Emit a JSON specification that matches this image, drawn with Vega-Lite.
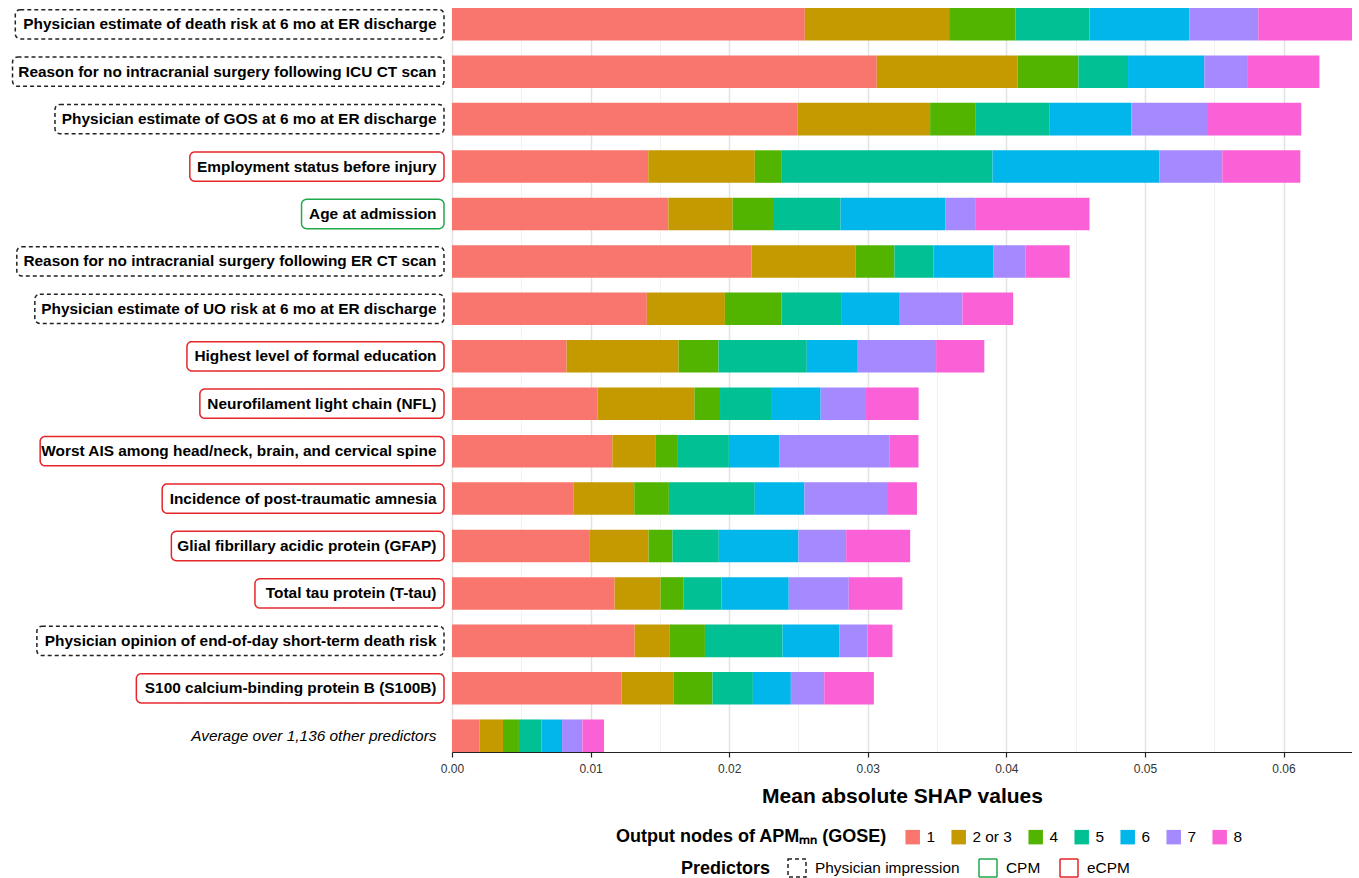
{
  "$schema": "https://vega.github.io/schema/vega-lite/v6.json",
  "background": "white",
  "padding": {"left": 0, "top": 8, "right": 0, "bottom": 0},
  "spacing": 0,
  "bounds": "flush",
  "config": {"view": {"stroke": null}, "font": "Liberation Sans"},
  "datasets": {
    "shap": [
      {"predictor": "Physician estimate of death risk at 6 mo at ER discharge", "type": "Physician impression", "1": 0.02546, "2 or 3": 0.01041, "4": 0.00478, "5": 0.00534, "6": 0.00721, "7": 0.00498, "8": 0.00676},
      {"predictor": "Reason for no intracranial surgery following ICU CT scan", "type": "Physician impression", "1": 0.03065, "2 or 3": 0.01015, "4": 0.00440, "5": 0.00358, "6": 0.00550, "7": 0.00315, "8": 0.00516},
      {"predictor": "Physician estimate of GOS at 6 mo at ER discharge", "type": "Physician impression", "1": 0.02495, "2 or 3": 0.00955, "4": 0.00325, "5": 0.00538, "6": 0.00589, "7": 0.00553, "8": 0.00673},
      {"predictor": "Employment status before injury", "type": "eCPM", "1": 0.01416, "2 or 3": 0.00769, "4": 0.00195, "5": 0.01520, "6": 0.01204, "7": 0.00454, "8": 0.00563},
      {"predictor": "Age at admission", "type": "CPM", "1": 0.01561, "2 or 3": 0.00464, "4": 0.00291, "5": 0.00488, "6": 0.00755, "7": 0.00221, "8": 0.00820},
      {"predictor": "Reason for no intracranial surgery following ER CT scan", "type": "Physician impression", "1": 0.02161, "2 or 3": 0.00750, "4": 0.00281, "5": 0.00281, "6": 0.00435, "7": 0.00229, "8": 0.00320},
      {"predictor": "Physician estimate of UO risk at 6 mo at ER discharge", "type": "Physician impression", "1": 0.01406, "2 or 3": 0.00563, "4": 0.00409, "5": 0.00435, "6": 0.00418, "7": 0.00452, "8": 0.00366},
      {"predictor": "Highest level of formal education", "type": "eCPM", "1": 0.00827, "2 or 3": 0.00808, "4": 0.00288, "5": 0.00637, "6": 0.00368, "7": 0.00565, "8": 0.00348},
      {"predictor": "Neurofilament light chain (NFL)", "type": "eCPM", "1": 0.01049, "2 or 3": 0.00700, "4": 0.00185, "5": 0.00368, "6": 0.00358, "7": 0.00327, "8": 0.00380},
      {"predictor": "Worst AIS among head/neck, brain, and cervical spine", "type": "eCPM", "1": 0.01157, "2 or 3": 0.00310, "4": 0.00163, "5": 0.00368, "6": 0.00366, "7": 0.00791, "8": 0.00211},
      {"predictor": "Incidence of post-traumatic amnesia", "type": "eCPM", "1": 0.00875, "2 or 3": 0.00440, "4": 0.00250, "5": 0.00620, "6": 0.00358, "7": 0.00596, "8": 0.00216},
      {"predictor": "Glial fibrillary acidic protein (GFAP)", "type": "eCPM", "1": 0.00995, "2 or 3": 0.00423, "4": 0.00173, "5": 0.00334, "6": 0.00575, "7": 0.00344, "8": 0.00462},
      {"predictor": "Total tau protein (T-tau)", "type": "eCPM", "1": 0.01173, "2 or 3": 0.00332, "4": 0.00164, "5": 0.00276, "6": 0.00485, "7": 0.00433, "8": 0.00387},
      {"predictor": "Physician opinion of end-of-day short-term death risk", "type": "Physician impression", "1": 0.01318, "2 or 3": 0.00250, "4": 0.00257, "5": 0.00560, "6": 0.00409, "7": 0.00204, "8": 0.00180},
      {"predictor": "S100 calcium-binding protein B (S100B)", "type": "eCPM", "1": 0.01222, "2 or 3": 0.00379, "4": 0.00279, "5": 0.00291, "6": 0.00274, "7": 0.00241, "8": 0.00358},
      {"predictor": "Average over 1,136 other predictors", "type": "other", "1": 0.00200, "2 or 3": 0.00168, "4": 0.00115, "5": 0.00162, "6": 0.00149, "7": 0.00147, "8": 0.00156}
    ]
  },
  "hconcat": [
    {
      "width": 452,
      "height": 744,
      "data": {"name": "shap"},
      "encoding": {
        "y": {"field": "predictor", "type": "nominal", "sort": null, "axis": null, "scale": {"paddingInner": 0.314, "paddingOuter": 0}}
      },
      "layer": [
        {
          "transform": [
            {"filter": "datum.type != 'other'"},
            {"calculate": "length(datum.predictor)*0.556 - 0.278*length(replace(datum.predictor, regexp('[^ ijlI.,/]','g'), '')) - 0.21*length(replace(datum.predictor, regexp('[^ftr()-]','g'), '')) + 0.055*length(replace(datum.predictor, regexp('[^bdghnopquFLT]','g'), '')) + 0.15*length(replace(datum.predictor, regexp('[^ABCDEGHKNOPQRSUVXYZ]','g'), '')) + 0.3*length(replace(datum.predictor, regexp('[^mwM]','g'), ''))", "as": "em"},
            {"calculate": "436.5 - 15.4*datum.em - 8", "as": "bx"}
          ],
          "mark": {"type": "bar", "fill": "white", "strokeWidth": 1.5, "cornerRadius": 5, "height": {"band": 0.9}},
          "encoding": {
            "x": {"field": "bx", "type": "quantitative", "scale": {"domain": [0, 452], "nice": false, "zero": false}, "axis": null},
            "x2": {"datum": 444},
            "stroke": {
              "field": "type", "type": "nominal",
              "scale": {"domain": ["Physician impression", "CPM", "eCPM"], "range": ["#222222", "#22A94A", "#E5262A"]},
              "legend": {"orient": "none", "legendX": 681, "legendY": 850, "direction": "horizontal", "title": "Predictors", "titleOrient": "left", "titleFontSize": 18, "titleFontWeight": "bold", "titleColor": "black", "labelFontSize": 15.4, "labelColor": "black", "symbolType": "square", "symbolSize": 324, "symbolStrokeWidth": 1.5, "symbolFillColor": "white", "columnPadding": 16, "labelOffset": 8, "titlePadding": 16}
            },
            "strokeDash": {
              "field": "type", "type": "nominal",
              "scale": {"domain": ["Physician impression", "CPM", "eCPM"], "range": [[4, 3], [1, 0], [1, 0]]},
              "legend": {"orient": "none", "legendX": 681, "legendY": 850, "direction": "horizontal", "title": "Predictors", "titleOrient": "left", "titleFontSize": 18, "titleFontWeight": "bold", "titleColor": "black", "labelFontSize": 15.4, "labelColor": "black", "symbolType": "square", "symbolSize": 324, "symbolStrokeWidth": 1.5, "symbolFillColor": "white", "columnPadding": 16, "labelOffset": 8, "titlePadding": 16}
            }
          }
        },
        {
          "transform": [{"filter": "datum.type != 'other'"}],
          "mark": {"type": "text", "align": "right", "baseline": "middle", "fontSize": 15.4, "fontWeight": "bold", "color": "black"},
          "encoding": {"x": {"datum": 436.5}, "text": {"field": "predictor"}}
        },
        {
          "transform": [{"filter": "datum.type == 'other'"}],
          "mark": {"type": "text", "align": "right", "baseline": "middle", "fontSize": 15.4, "fontStyle": "italic", "color": "black"},
          "encoding": {"x": {"datum": 436.5}, "text": {"field": "predictor"}}
        }
      ]
    },
    {
      "width": 900,
      "height": 744,
      "data": {"name": "shap"},
      "transform": [{"fold": ["1", "2 or 3", "4", "5", "6", "7", "8"], "as": ["node", "val"]}],
      "mark": {"type": "bar"},
      "encoding": {
        "y": {"field": "predictor", "type": "nominal", "sort": null, "axis": null, "scale": {"paddingInner": 0.314, "paddingOuter": 0}},
        "x": {
          "field": "val", "type": "quantitative", "stack": "zero",
          "scale": {"domain": [0, 0.06494], "nice": false},
          "axis": {
            "values": [0, 0.005, 0.01, 0.015, 0.02, 0.025, 0.03, 0.035, 0.04, 0.045, 0.05, 0.055, 0.06],
            "format": ".2f",
            "labelExpr": "round(datum.value*1000) % 10 == 0 ? datum.label : ''",
            "title": "Mean absolute SHAP values",
            "titleFontSize": 21, "titleFontWeight": "bold", "titleColor": "black", "titlePadding": 11,
            "labelFontSize": 12, "labelColor": "#333333", "labelPadding": 6, "labelFlush": false, "labelOverlap": false,
            "tickSize": 5, "tickColor": "#222222", "tickWidth": 1.2,
            "tickOpacity": {"condition": {"test": "round(datum.value*1000) % 10 != 0", "value": 0}, "value": 1},
            "domainColor": "#222222", "domainWidth": 1.2,
            "grid": true,
            "gridColor": {"condition": {"test": "round(datum.value*1000) % 10 != 0", "value": "#EFEFEF"}, "value": "#E2E2E2"},
            "gridWidth": {"condition": {"test": "round(datum.value*1000) % 10 != 0", "value": 0.8}, "value": 1.5}
          }
        },
        "color": {
          "field": "node", "type": "nominal",
          "scale": {"domain": ["1", "2 or 3", "4", "5", "6", "7", "8"], "range": ["#F8766D", "#C49A00", "#53B400", "#00C094", "#00B6EB", "#A58AFF", "#FB61D7"]},
          "legend": {"orient": "none", "legendX": 616, "legendY": 821, "direction": "horizontal", "title": "Output nodes of APMₘₙ (GOSE)", "titleLimit": 1000, "titleOrient": "left", "titleFontSize": 18, "titleFontWeight": "bold", "titleColor": "black", "labelFontSize": 15.4, "labelColor": "black", "symbolType": "square", "symbolSize": 210, "symbolStrokeWidth": 0, "columnPadding": 16, "labelOffset": 6, "titlePadding": 18}
        },
        "order": {"field": "node", "sort": "ascending"}
      }
    }
  ]
}
